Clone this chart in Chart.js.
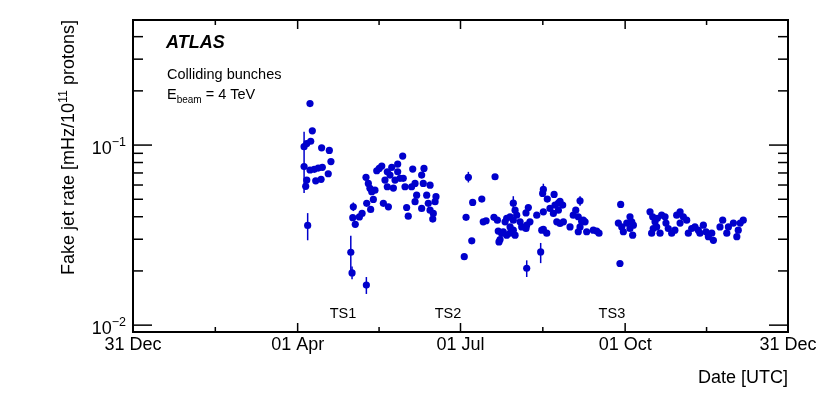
<!DOCTYPE html>
<html><head><meta charset="utf-8">
<script src="https://cdn.jsdelivr.net/npm/chart.js@4.4.1/dist/chart.umd.min.js"></script>
<style>html,body{margin:0;padding:0;background:#fff;}canvas{display:block;}</style>
</head><body>
<canvas id="c" width="830" height="397"></canvas>
<script>
// Day number counted from 31 Dec 2011 (0) to 31 Dec 2012 (366)
const days = [
 98.9,100.2,99.3,95.6,97.1,105.4,109.7,110.6,95.6,98.9,101.3,103.5,105.8,109.1,97.1,102.1,105.1,96.5,97.6,
 121.7,122.4,130.4,123.1,122.8,124.2,126.5,128.0,130.6,132.8,134.3,130.2,131.5,132.4,133.4,135.2,136.2,137.6,139.0,
 139.9,142.7,142.1,143.6,144.6,147.9,150.7,140.8,142.1,145.5,146.4,149.2,147.9,151.0,152.0,155.7,156.3,157.6,
 161.3,162.2,162.6,166.0,158.5,157.6,164.1,165.0,169.3,168.8,152.9,153.8,161.3,166.0,167.8,167.5,
 187.4,189.8,186.1,189.3,185.1,194.9,195.7,197.3,202.3,201.7,203.6,204.1,206.0,205.1,204.5,207.9,208.8,210.7,
 212.5,213.5,214.4,212.5,206.9,208.8,210.7,213.5,212.5,210.7,216.3,217.2,219.6,220.9,220.0,221.8,219.6,220.0,
 225.6,227.8,229.3,231.2,228.4,229.3,229.3,228.9,231.5,235.3,233.0,234.9,235.8,237.7,238.6,240.1,237.7,236.8,
 238.6,240.5,244.2,246.0,247.4,248.8,250.7,252.6,249.8,253.5,248.8,249.8,259.1,260.4,251.6,257.2,
 272.5,272.1,271.2,273.1,274.0,275.9,277.7,278.7,279.6,277.7,279.2,
 288.9,290.4,291.7,292.6,294.5,289.8,290.7,293.0,295.4,297.3,297.8,299.1,301.0,302.8,303.8,305.7,307.5,309.4,
 305.7,310.3,312.2,314.0,315.9,316.8,318.7,320.2,321.5,323.4,324.3,328.0,329.5,331.8,332.7,335.5,337.4,339.3,
 341.0,338.2
];
// Fake jet rate [mHz / 1e11 protons]
const rates = [
 0.170,0.120,0.105,0.098,0.102,0.0966,0.0934,0.081,0.076,0.0727,0.0733,0.0745,0.0752,0.0693,0.0639,0.0633,0.0645,0.059,0.0358,
 0.0254,0.0195,0.0167,0.0454,0.0395,0.0363,0.0399,0.0417,0.0475,0.0439,0.0499,0.0662,0.0612,0.0575,0.0551,0.0562,0.072,0.0742,0.0764,
 0.0475,0.0454,0.0711,0.0681,0.0752,0.0784,0.0869,0.0639,0.0587,0.0577,0.0639,0.0654,0.0711,0.0654,0.0587,0.0587,0.0736,0.0612,
 0.0681,0.0612,0.0742,0.0599,0.0527,0.0485,0.0527,0.0475,0.0517,0.0485,0.045,0.0403,0.0445,0.0435,0.0417,0.0388,
 0.0662,0.048,0.0397,0.0294,0.024,0.0501,0.0375,0.038,0.0667,0.0397,0.0383,0.0333,0.0323,0.0299,0.029,0.0375,0.0392,0.04,
 0.0476,0.0435,0.0408,0.0383,0.033,0.0316,0.0324,0.0316,0.0337,0.0351,0.0375,0.0351,0.042,0.045,0.0359,0.0375,0.0344,0.0207,
 0.0408,0.0255,0.034,0.0324,0.0337,0.0426,0.0567,0.0539,0.0501,0.0532,0.0445,0.0417,0.0464,0.0476,0.0487,0.0464,0.0435,0.0375,
 0.0367,0.0375,0.0351,0.0408,0.0435,0.04,0.0378,0.0375,0.0351,0.033,0.033,0.049,0.0333,0.0324,0.0383,0.0337,
 0.0468,0.022,0.0369,0.0351,0.033,0.0369,0.04,0.0375,0.0359,0.0344,0.0316,
 0.0426,0.04,0.0375,0.0351,0.0324,0.0324,0.0344,0.0392,0.0408,0.04,0.0369,0.0344,0.0324,0.0337,0.0408,0.0426,0.04,0.0383,
 0.0369,0.0324,0.0344,0.0351,0.0337,0.0324,0.0359,0.033,0.031,0.0324,0.0296,0.0351,0.0383,0.0324,0.0351,0.0369,0.031,0.0369,
 0.0383,0.0337
];
// Visible vertical error bars
const errDays = [95.6, 97.6, 121.7, 122.4, 130.4, 123.1, 187.4, 212.5, 220.0, 227.8, 229.3, 249.8];
const errLow  = [0.0541, 0.0296, 0.0197, 0.0180, 0.0149, 0.0430, 0.0620, 0.0440, 0.0185, 0.0221, 0.0520, 0.0460];
const errHigh = [0.1186, 0.0419, 0.0314, 0.0212, 0.0185, 0.0480, 0.0710, 0.0520, 0.0229, 0.0286, 0.0610, 0.0520];

const xMajorDays = [0, 92, 183, 275, 366];
const xMajorLabels = ['31 Dec', '01 Apr', '01 Jul', '01 Oct', '31 Dec'];
const xMinorDays = [46, 137.5, 229, 320.5];
const yMajor = [0.01, 0.1];
const yMajorExp = ['\u22122', '\u22121'];
const yMinor = [0.02,0.03,0.04,0.05,0.06,0.07,0.08,0.09,0.2,0.3,0.4];
const tsLabels = ['TS1', 'TS2', 'TS3'];
const tsDays = [117.3, 176.0, 267.6];

const X_MIN = 0, X_MAX = 366, Y_MIN = 0.00916, Y_MAX = 0.495;
const FONT = '"Liberation Sans", Arial, Helvetica, sans-serif';
const BLUE = '#0000cc';

const points = days.map((d, i) => ({x: d, y: rates[i]}));

const errorBars = {
  id: 'errorBars',
  beforeDatasetsDraw(chart) {
    const {ctx, scales: {x, y}} = chart;
    ctx.save();
    ctx.strokeStyle = BLUE;
    ctx.lineWidth = 1.5;
    errDays.forEach((d, i) => {
      const px = x.getPixelForValue(d);
      ctx.beginPath();
      ctx.moveTo(px, y.getPixelForValue(errLow[i]));
      ctx.lineTo(px, y.getPixelForValue(errHigh[i]));
      ctx.stroke();
    });
    ctx.restore();
  }
};

const frame = {
  id: 'frame',
  afterDraw(chart) {
    const {ctx, chartArea: a, scales: {x, y}} = chart;
    ctx.save();
    ctx.strokeStyle = '#000';
    ctx.fillStyle = '#000';
    ctx.lineWidth = 2;
    ctx.strokeRect(a.left, a.top, a.right - a.left, a.bottom - a.top);
    ctx.lineWidth = 1.5;
    const line = (x1, y1, x2, y2) => { ctx.beginPath(); ctx.moveTo(x1, y1); ctx.lineTo(x2, y2); ctx.stroke(); };
    // x ticks
    xMajorDays.forEach(d => { const p = x.getPixelForValue(d); line(p, a.bottom, p, a.bottom - 9); line(p, a.top, p, a.top + 9); });
    xMinorDays.forEach(d => { const p = x.getPixelForValue(d); line(p, a.bottom, p, a.bottom - 5); line(p, a.top, p, a.top + 5); });
    // y ticks
    yMajor.forEach(v => { const p = y.getPixelForValue(v); line(a.left, p, a.left + 19, p); line(a.right, p, a.right - 19, p); });
    yMinor.forEach(v => { const p = y.getPixelForValue(v); line(a.left, p, a.left + 10, p); line(a.right, p, a.right - 10, p); });
    // x labels
    ctx.font = '18px ' + FONT;
    ctx.textAlign = 'center';
    ctx.textBaseline = 'top';
    xMajorDays.forEach((d, i) => ctx.fillText(xMajorLabels[i], x.getPixelForValue(d), a.bottom + 4));
    ctx.textAlign = 'right';
    ctx.fillText('Date [UTC]', a.right, 369);
    // y labels 10^n
    yMajor.forEach((v, i) => {
      const p = y.getPixelForValue(v);
      ctx.font = '12.5px ' + FONT;
      const ew = ctx.measureText(yMajorExp[i]).width;
      ctx.textAlign = 'left';
      ctx.textBaseline = 'alphabetic';
      const right = 126;
      ctx.fillText(yMajorExp[i], right - ew, p + 1);
      ctx.font = '18px ' + FONT;
      ctx.textAlign = 'right';
      ctx.fillText('10', right - ew, p + 9);
    });
    // y title (rotated) with superscript
    ctx.save();
    ctx.translate(74, a.top);
    ctx.rotate(-Math.PI / 2);
    const t1 = 'Fake jet rate [mHz/10', t2 = '11', t3 = ' protons]';
    ctx.font = '18px ' + FONT; const w1 = ctx.measureText(t1).width, w3 = ctx.measureText(t3).width;
    ctx.font = '12.5px ' + FONT; const w2 = ctx.measureText(t2).width;
    const total = w1 + w2 + w3;
    ctx.textAlign = 'left'; ctx.textBaseline = 'alphabetic';
    let sx = -total;
    ctx.font = '18px ' + FONT; ctx.fillText(t1, sx, 0); sx += w1;
    ctx.font = '12.5px ' + FONT; ctx.fillText(t2, sx, -7); sx += w2;
    ctx.font = '18px ' + FONT; ctx.fillText(t3, sx, 0);
    ctx.restore();
    // annotations
    ctx.textAlign = 'left'; ctx.textBaseline = 'alphabetic';
    ctx.font = 'italic bold 18px ' + FONT;
    ctx.fillText('ATLAS', 166, 48);
    ctx.font = '14.5px ' + FONT;
    ctx.fillText('Colliding bunches', 167, 79);
    ctx.fillText('E', 167, 99);
    const ewE = ctx.measureText('E').width;
    ctx.font = '10px ' + FONT;
    ctx.fillText('beam', 167 + ewE, 103);
    const ewB = ctx.measureText('beam').width;
    ctx.font = '14.5px ' + FONT;
    ctx.fillText(' = 4 TeV', 167 + ewE + ewB, 99);
    ctx.textAlign = 'center';
    ctx.font = '14.5px ' + FONT;
    tsLabels.forEach((t, i) => ctx.fillText(t, x.getPixelForValue(tsDays[i]), 318));
    ctx.restore();
  }
};

new Chart(document.getElementById('c'), {
  type: 'scatter',
  data: { datasets: [{ data: points, pointRadius: 3.6, pointHoverRadius: 3.6, pointBackgroundColor: BLUE, pointBorderWidth: 0, borderColor: BLUE }] },
  options: {
    responsive: false, animation: false, devicePixelRatio: 1,
    layout: { padding: { left: 133, right: 42, top: 20, bottom: 65 } },
    plugins: { legend: { display: false }, tooltip: { enabled: false } },
    scales: {
      x: { type: 'linear', display: false, min: X_MIN, max: X_MAX,
           afterBuildTicks: s => { s.min = X_MIN; s.max = X_MAX; } },
      y: { type: 'logarithmic', display: false, min: Y_MIN, max: Y_MAX,
           afterBuildTicks: s => { s.min = Y_MIN; s.max = Y_MAX; } }
    }
  },
  plugins: [errorBars, frame]
});
</script>
</body></html>
